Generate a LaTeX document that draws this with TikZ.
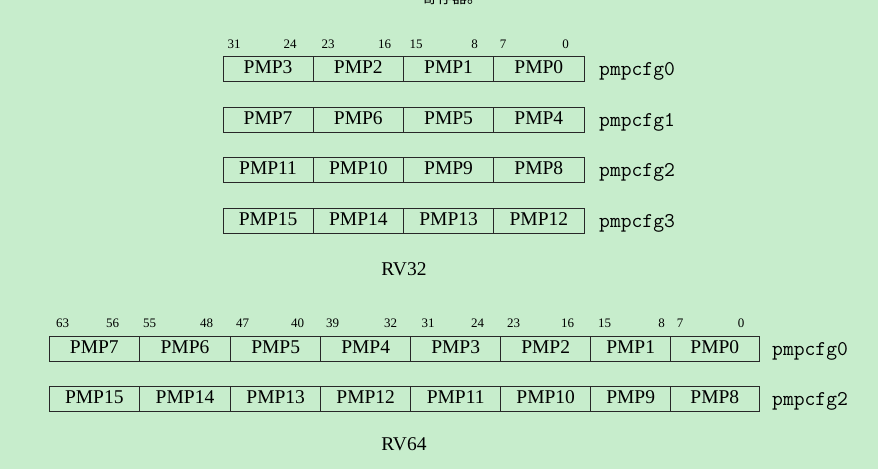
\documentclass[tikz,border=0pt]{standalone}
\usepackage{fontspec}
\setmainfont{Liberation Serif}
\newfontfamily\cjk{Noto Sans CJK SC}
\definecolor{bggreen}{RGB}{199,237,204}
\definecolor{rule}{RGB}{40,40,40}
\tikzstyle{field}=[draw=rule, line width=0.9pt, minimum height=25pt, inner sep=0pt, text height=13pt, text depth=4pt, font=\fontsize{19.5}{19.5}\selectfont]
\tikzstyle{bitno}=[inner sep=0pt, font=\fontsize{13}{13}\selectfont]
\tikzstyle{regname}=[anchor=base west, inner sep=0pt, font=\ttfamily\fontsize{21}{21}\selectfont]
\tikzstyle{caption}=[inner sep=0pt, font=\fontsize{19.5}{19.5}\selectfont]
\tikzstyle{heading}=[anchor=base, inner sep=0pt, font=\cjk\fontsize{15}{15}\selectfont]

\begin{document}
\begin{tikzpicture}[x=1pt, y=-1pt]
	\fill[bggreen] (0,0) rectangle (878,469);
	\useasboundingbox (0,0) rectangle (878,469);

	% Heading, cut off at the top
	\node[heading] (head) at (452,3) {寄存器。};

	% RV32: bit numbers over the first register
	\foreach \x/\b in {234/31, 290/24, 328/23, 384.5/16, 416/15, 474.5/8, 503/7, 565.5/0}
		\node[bitno] (b32n\b) at (\x,44.5) {\b};

	% RV32: four registers of four fields each
	\foreach \r/\y in {0/69, 1/119.5, 2/170, 3/220.5} {
		\foreach \c in {0,...,3} {
			\pgfmathtruncatemacro{\n}{4*\r+3-\c}
			\node[field, minimum width=90.25pt] (p32r\r c\c) at ({268.1+90.25*\c},\y) {PMP\n};
		}
		\node[regname] (cfg32r\r) at (599,{\y+6.5}) {pmpcfg\r};
	}
	\node[caption] (rv32) at (404,269) {RV32};

	% RV64: bit numbers over the first register
	\foreach \x/\b in {62.5/63, 112.5/56, 149.5/55, 206.5/48, 242.5/47, 297.5/40, 332.5/39, 390.5/32,
	                   428/31, 477.5/24, 513.5/23, 567.5/16, 604.5/15, 661.5/8, 680/7, 741/0}
		\node[bitno] (b64n\b) at (\x,323) {\b};

	% RV64: two registers of eight fields each
	\foreach \r/\y in {0/348.5, 1/399} {
		\foreach \x/\w/\c in {94.3/90/0, 185/91.4/1, 275.7/90/2, 365.7/90/3,
		                      455.7/90/4, 545.7/90/5, 630.7/80/6, 714.85/88.3/7} {
			\pgfmathtruncatemacro{\n}{8*\r+7-\c}
			\node[field, minimum width=\w pt] (p64r\r c\c) at (\x,\y) {PMP\n};
		}
		\pgfmathtruncatemacro{\k}{2*\r}
		\node[regname] (cfg64r\r) at (772,{\y+6.5}) {pmpcfg\k};
	}
	\node[caption] (rv64) at (404,444) {RV64};
\end{tikzpicture}
\end{document}
